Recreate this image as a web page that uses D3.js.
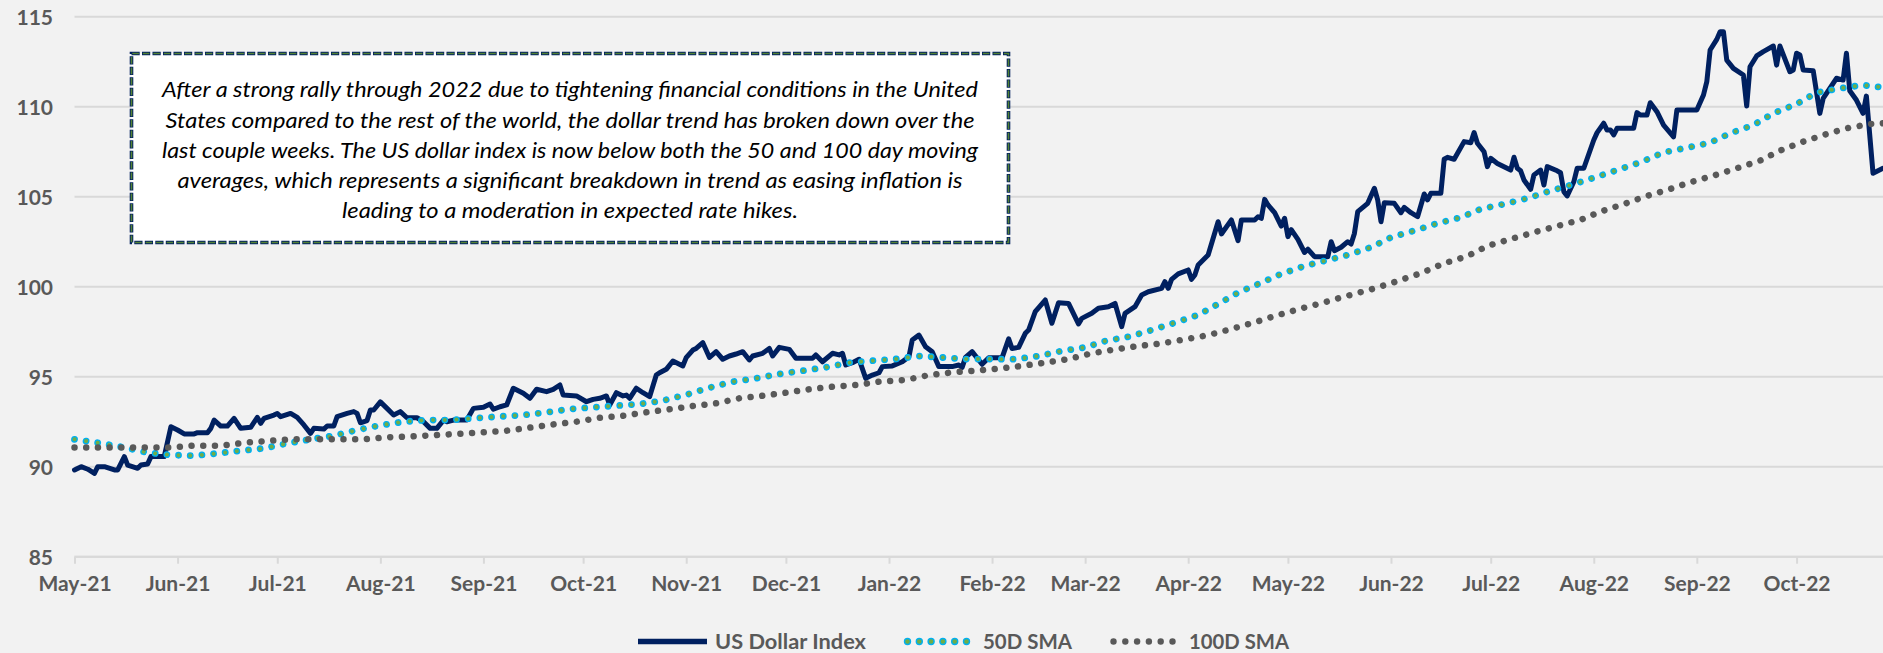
<!DOCTYPE html>
<html><head><meta charset="utf-8">
<script src="https://cdn.jsdelivr.net/npm/d3@7"></script>
<style>
html,body{margin:0;padding:0;background:#f2f2f2;}
svg{display:block;}
</style></head><body>
<svg id="chart" width="1883" height="653"></svg>
<script>
// ---------------- DATA ----------------
const yTickValues = [85, 90, 95, 100, 105, 110, 115];
const monthTicks = ["2021-05-01","2021-06-01","2021-07-01","2021-08-01","2021-09-01","2021-10-01","2021-11-01","2021-12-01","2022-01-01","2022-02-01","2022-03-01","2022-04-01","2022-05-01","2022-06-01","2022-07-01","2022-08-01","2022-09-01","2022-10-01"];
const axisStart = "2021-05-01";
const axisEnd = "2022-10-27";
const seriesNames = ["US Dollar Index", "50D SMA", "100D SMA"];

const usdDates = ["2021-05-01","2021-05-03","2021-05-05","2021-05-07","2021-05-08","2021-05-10","2021-05-13","2021-05-14","2021-05-16","2021-05-17","2021-05-20","2021-05-21","2021-05-23","2021-05-24","2021-05-28","2021-05-30","2021-06-01","2021-06-03","2021-06-06","2021-06-07","2021-06-10","2021-06-11","2021-06-12","2021-06-14","2021-06-16","2021-06-18","2021-06-20","2021-06-23","2021-06-25","2021-06-26","2021-06-27","2021-06-30","2021-07-01","2021-07-02","2021-07-05","2021-07-07","2021-07-09","2021-07-11","2021-07-12","2021-07-15","2021-07-16","2021-07-18","2021-07-19","2021-07-22","2021-07-24","2021-07-25","2021-07-26","2021-07-28","2021-07-29","2021-07-30","2021-08-01","2021-08-03","2021-08-05","2021-08-07","2021-08-09","2021-08-12","2021-08-14","2021-08-16","2021-08-18","2021-08-20","2021-08-21","2021-08-23","2021-08-27","2021-08-29","2021-09-01","2021-09-03","2021-09-04","2021-09-06","2021-09-08","2021-09-10","2021-09-13","2021-09-15","2021-09-17","2021-09-20","2021-09-22","2021-09-24","2021-09-25","2021-09-29","2021-10-02","2021-10-04","2021-10-06","2021-10-08","2021-10-09","2021-10-11","2021-10-13","2021-10-14","2021-10-15","2021-10-17","2021-10-19","2021-10-21","2021-10-23","2021-10-24","2021-10-26","2021-10-28","2021-10-31","2021-11-01","2021-11-03","2021-11-04","2021-11-06","2021-11-08","2021-11-10","2021-11-12","2021-11-14","2021-11-16","2021-11-18","2021-11-20","2021-11-21","2021-11-24","2021-11-26","2021-11-27","2021-11-29","2021-12-02","2021-12-04","2021-12-09","2021-12-10","2021-12-12","2021-12-15","2021-12-17","2021-12-18","2021-12-19","2021-12-21","2021-12-23","2021-12-25","2021-12-27","2021-12-29","2021-12-30","2022-01-02","2022-01-05","2022-01-07","2022-01-08","2022-01-10","2022-01-12","2022-01-14","2022-01-16","2022-01-18","2022-01-20","2022-01-22","2022-01-23","2022-01-24","2022-01-26","2022-01-28","2022-01-29","2022-01-31","2022-02-04","2022-02-06","2022-02-07","2022-02-09","2022-02-11","2022-02-12","2022-02-14","2022-02-17","2022-02-19","2022-02-21","2022-02-24","2022-02-27","2022-02-28","2022-03-03","2022-03-05","2022-03-08","2022-03-10","2022-03-12","2022-03-13","2022-03-16","2022-03-18","2022-03-20","2022-03-24","2022-03-25","2022-03-26","2022-03-27","2022-03-29","2022-04-01","2022-04-02","2022-04-03","2022-04-04","2022-04-07","2022-04-10","2022-04-11","2022-04-14","2022-04-16","2022-04-17","2022-04-21","2022-04-22","2022-04-23","2022-04-24","2022-04-25","2022-04-27","2022-04-29","2022-04-30","2022-05-01","2022-05-02","2022-05-04","2022-05-06","2022-05-07","2022-05-09","2022-05-13","2022-05-14","2022-05-15","2022-05-17","2022-05-19","2022-05-20","2022-05-21","2022-05-22","2022-05-25","2022-05-27","2022-05-28","2022-05-29","2022-05-30","2022-06-02","2022-06-04","2022-06-05","2022-06-07","2022-06-09","2022-06-11","2022-06-12","2022-06-13","2022-06-16","2022-06-17","2022-06-18","2022-06-20","2022-06-23","2022-06-25","2022-06-26","2022-06-27","2022-06-29","2022-06-30","2022-07-01","2022-07-03","2022-07-07","2022-07-08","2022-07-09","2022-07-10","2022-07-11","2022-07-13","2022-07-14","2022-07-16","2022-07-17","2022-07-18","2022-07-21","2022-07-22","2022-07-23","2022-07-24","2022-07-26","2022-07-27","2022-07-29","2022-08-01","2022-08-02","2022-08-04","2022-08-05","2022-08-06","2022-08-07","2022-08-08","2022-08-13","2022-08-14","2022-08-15","2022-08-17","2022-08-18","2022-08-20","2022-08-22","2022-08-25","2022-08-26","2022-08-29","2022-09-01","2022-09-03","2022-09-04","2022-09-05","2022-09-07","2022-09-08","2022-09-09","2022-09-10","2022-09-12","2022-09-15","2022-09-16","2022-09-17","2022-09-19","2022-09-21","2022-09-24","2022-09-25","2022-09-26","2022-09-29","2022-09-30","2022-10-01","2022-10-02","2022-10-03","2022-10-06","2022-10-08","2022-10-09","2022-10-13","2022-10-15","2022-10-16","2022-10-17","2022-10-19","2022-10-21","2022-10-22","2022-10-24","2022-10-27"];
const usdValues = [89.82,90.0,89.86,89.63,90.0,90.0,89.82,89.82,90.56,90.09,89.91,90.09,90.15,90.56,90.56,92.22,92.04,91.82,91.82,91.89,91.89,92.13,92.59,92.26,92.26,92.69,92.13,92.19,92.74,92.41,92.69,92.87,92.96,92.78,92.96,92.74,92.32,91.85,92.13,92.09,92.26,92.26,92.78,92.96,93.06,92.96,92.44,92.56,93.15,93.15,93.6,93.24,92.87,93.06,92.72,92.72,92.5,92.13,92.13,92.59,92.5,92.59,92.59,93.24,93.3,93.48,93.19,93.33,93.43,94.36,94.08,93.8,94.3,94.17,94.3,94.54,93.98,93.93,93.61,93.74,93.8,93.93,93.43,94.11,93.93,93.98,93.8,94.36,94.11,93.89,95.09,95.22,95.41,95.87,95.6,96.06,96.48,96.57,96.89,96.07,96.39,95.97,96.15,96.26,96.39,95.93,96.15,96.3,96.57,96.15,96.63,96.52,96.02,96.02,96.21,95.83,96.3,96.21,96.3,95.65,95.78,95.97,94.91,95.09,95.22,95.56,95.6,95.83,96.11,97.04,97.31,96.67,96.39,95.56,95.56,95.56,95.65,95.52,96.07,96.39,95.93,95.69,96.05,96.05,97.1,96.57,96.63,97.41,97.59,98.61,99.26,97.97,99.11,99.07,97.93,98.24,98.52,98.8,98.89,99.07,97.78,98.52,98.89,99.54,99.72,99.91,100.28,99.91,100.41,100.71,100.93,100.41,100.65,101.21,101.76,103.61,102.93,103.71,102.56,103.71,103.71,103.89,103.8,104.85,104.54,104.11,103.37,103.8,102.78,103.17,102.63,101.9,102.08,101.67,101.67,102.5,102.0,102.19,102.5,102.37,102.96,104.17,104.63,105.47,104.82,103.61,104.67,104.63,104.11,104.41,104.11,103.89,105.15,104.82,105.19,105.19,107.08,107.19,107.08,108.06,108.0,108.56,107.97,107.5,106.67,107.13,106.85,106.48,107.19,106.58,106.44,105.93,105.41,106.21,106.48,105.65,106.67,106.44,106.33,105.28,105.04,105.83,106.58,106.58,108.15,108.56,109.08,108.7,108.71,108.43,108.8,108.8,109.67,109.54,109.54,110.22,109.72,108.98,108.33,109.82,109.82,109.82,110.65,111.39,113.15,113.74,114.17,114.17,112.59,112.13,111.76,110.04,112.22,112.82,113.06,113.37,112.31,113.37,111.94,112.04,112.97,112.87,112.04,112.0,109.63,110.46,111.58,111.48,112.97,110.89,110.37,109.63,110.59,106.3,106.58];

const sma50Dates = ["2021-05-01","2021-05-09","2021-05-16","2021-05-23","2021-05-30","2021-06-06","2021-06-13","2021-06-20","2021-06-27","2021-07-04","2021-07-11","2021-07-18","2021-07-25","2021-08-01","2021-08-08","2021-08-15","2021-08-22","2021-08-29","2021-09-05","2021-09-13","2021-09-20","2021-09-27","2021-10-04","2021-10-11","2021-10-18","2021-10-25","2021-11-01","2021-11-08","2021-11-15","2021-11-22","2021-11-29","2021-12-06","2021-12-13","2021-12-20","2021-12-27","2022-01-03","2022-01-10","2022-01-17","2022-01-24","2022-01-31","2022-02-08","2022-02-15","2022-02-22","2022-03-01","2022-03-07","2022-03-14","2022-03-21","2022-03-28","2022-04-04","2022-04-10","2022-04-16","2022-04-23","2022-04-29","2022-05-06","2022-05-13","2022-05-19","2022-05-26","2022-06-01","2022-06-08","2022-06-15","2022-06-22","2022-06-28","2022-07-05","2022-07-12","2022-07-19","2022-07-26","2022-08-02","2022-08-08","2022-08-15","2022-08-22","2022-08-29","2022-09-05","2022-09-11","2022-09-18","2022-09-24","2022-10-01","2022-10-07","2022-10-14","2022-10-21","2022-10-27"];
const sma50Values = [91.52,91.3,91.07,90.78,90.65,90.61,90.74,90.89,91.02,91.3,91.52,91.72,92.04,92.3,92.5,92.59,92.59,92.69,92.78,92.87,93.02,93.2,93.3,93.39,93.48,93.67,94.0,94.39,94.72,94.91,95.15,95.33,95.52,95.78,95.89,95.98,96.15,96.07,95.98,95.98,95.97,96.15,96.43,96.63,96.98,97.22,97.59,98.0,98.43,99.04,99.67,100.22,100.71,101.15,101.48,101.76,102.19,102.74,103.11,103.52,103.85,104.32,104.59,104.91,105.33,105.7,106.11,106.48,106.91,107.46,107.72,108.0,108.52,108.98,109.63,110.15,110.78,111.02,111.2,111.07];

const sma100Dates = ["2021-05-01","2021-05-09","2021-05-16","2021-05-23","2021-05-30","2021-06-06","2021-06-14","2021-06-21","2021-06-28","2021-07-05","2021-07-12","2021-07-20","2021-07-27","2021-08-03","2021-08-10","2021-08-17","2021-08-24","2021-08-31","2021-09-08","2021-09-15","2021-09-22","2021-09-29","2021-10-06","2021-10-13","2021-10-20","2021-10-27","2021-11-03","2021-11-10","2021-11-17","2021-11-24","2021-12-01","2021-12-08","2021-12-15","2021-12-22","2021-12-29","2022-01-06","2022-01-13","2022-01-20","2022-01-27","2022-02-03","2022-02-10","2022-02-17","2022-02-24","2022-03-03","2022-03-10","2022-03-17","2022-03-24","2022-03-31","2022-04-07","2022-04-14","2022-04-21","2022-04-27","2022-05-04","2022-05-11","2022-05-18","2022-05-26","2022-06-02","2022-06-10","2022-06-17","2022-06-24","2022-06-30","2022-07-07","2022-07-14","2022-07-21","2022-07-28","2022-08-03","2022-08-10","2022-08-17","2022-08-24","2022-08-30","2022-09-06","2022-09-13","2022-09-20","2022-09-26","2022-10-03","2022-10-10","2022-10-16","2022-10-23","2022-10-27"];
const sma100Values = [91.07,91.07,91.07,91.07,91.07,91.17,91.17,91.33,91.43,91.52,91.52,91.52,91.52,91.63,91.68,91.75,91.82,91.9,92.0,92.17,92.35,92.5,92.72,92.83,93.02,93.19,93.37,93.52,93.8,93.94,94.11,94.3,94.44,94.54,94.72,94.82,95.09,95.24,95.33,95.45,95.6,95.78,95.98,96.3,96.52,96.7,96.85,97.07,97.31,97.65,98.02,98.37,98.74,99.08,99.45,99.85,100.25,100.75,101.3,101.7,102.26,102.65,103.02,103.37,103.71,104.17,104.59,105.04,105.43,105.8,106.17,106.58,107.0,107.56,108.06,108.48,108.8,109.04,109.08];

const noteLines = [
  "After a strong rally through 2022 due to tightening financial conditions in the United",
  "States compared to the rest of the world, the dollar trend has broken down over the",
  "last couple weeks. The US dollar index is now below both the 50 and 100 day moving",
  "averages, which represents a significant breakdown in trend as easing inflation is",
  "leading to a moderation in expected rate hikes."
];

// ---------------- STYLE / LAYOUT ----------------
const W = 1883, H = 653;
const plot = {left: 74.5, right: 1883, top: 16.7, bottom: 556.7};
const NAVY = "#002060", CYAN = "#00b0f0", GREEN = "#70ad47", GREY = "#595959";
const GRID = "#d9d9d9", LABEL = "#595959";
const FONT = "Lato, 'Open Sans', 'Liberation Sans', sans-serif";

const parse = d3.timeParse("%Y-%m-%d");
const svg = d3.select("#chart");
svg.append("rect").attr("width", W).attr("height", H).attr("fill", "#f2f2f2");

const x = d3.scaleTime().domain([parse(axisStart), parse(axisEnd)]).range([plot.left, plot.right]);
const y = d3.scaleLinear().domain([85, 115]).range([plot.bottom, plot.top]);

// gridlines
svg.append("g").selectAll("line").data(yTickValues).join("line")
  .attr("x1", plot.left).attr("x2", plot.right)
  .attr("y1", d => y(d)).attr("y2", d => y(d))
  .attr("stroke", GRID).attr("stroke-width", 2);

// y labels
const yAxis = d3.axisLeft(y).tickValues(yTickValues).tickSize(0).tickPadding(0).tickFormat(d3.format("d"));
const gy = svg.append("g").attr("transform", "translate(53,0)").call(yAxis);
gy.select(".domain").remove();
gy.selectAll("text").attr("font-family", FONT).attr("font-weight", 700).attr("font-size", 21)
  .attr("fill", LABEL).attr("dy", "0.36em");

// x axis
const xAxis = d3.axisBottom(x).tickValues(monthTicks.map(parse)).tickSize(7).tickPadding(12)
  .tickFormat(d3.timeFormat("%b-%y"));
const gx = svg.append("g").attr("transform", `translate(0,${plot.bottom})`).call(xAxis);
gx.select(".domain").attr("stroke", GRID).attr("stroke-width", 2).attr("d", `M${plot.left},0H${plot.right}`);
gx.selectAll(".tick line").attr("stroke", GRID).attr("stroke-width", 2);
gx.selectAll("text").attr("font-family", FONT).attr("font-weight", 700).attr("font-size", 21)
  .attr("fill", LABEL).attr("dy", "0.71em");

// note box
const box = {x: 131.5, y: 53.5, w: 877, h: 189};
svg.append("rect").attr("x", box.x).attr("y", box.y).attr("width", box.w).attr("height", box.h)
  .attr("fill", "#ffffff").attr("stroke", NAVY).attr("stroke-width", 3.6).attr("stroke-dasharray", "8.2 2.3");
svg.append("rect").attr("x", box.x).attr("y", box.y).attr("width", box.w).attr("height", box.h)
  .attr("fill", "none").attr("stroke", "#548235").attr("stroke-width", 1.6)
  .attr("stroke-dasharray", "6.6 3.9").attr("stroke-dashoffset", -0.8);
const lineWidths = [816, 809, 816, 785, 456];
const lineY = [97, 128, 158, 188, 218];
svg.append("g").selectAll("text").data(noteLines).join("text")
  .attr("x", box.x + box.w / 2).attr("y", (d, i) => lineY[i])
  .attr("text-anchor", "middle").attr("font-family", FONT).attr("font-style", "italic")
  .attr("font-size", 20.5).attr("fill", "#000")
  .attr("textLength", (d, i) => lineWidths[i]).attr("lengthAdjust", "spacingAndGlyphs")
  .text(d => d);

// series
const line = d3.line().x(d => x(d[0])).y(d => y(d[1])).curve(d3.curveLinear);
const usd = usdDates.map((d, i) => [parse(d), usdValues[i]]);
const s50 = sma50Dates.map((d, i) => [parse(d), sma50Values[i]]);
const s100 = sma100Dates.map((d, i) => [parse(d), sma100Values[i]]);

svg.append("path").attr("d", line(usd)).attr("fill", "none").attr("stroke", NAVY)
  .attr("stroke-width", 5).attr("stroke-linejoin", "round").attr("stroke-linecap", "round");

const dot = "0.01 11.7";
svg.append("path").attr("d", line(s50)).attr("fill", "none").attr("stroke", CYAN)
  .attr("stroke-width", 6.8).attr("stroke-linecap", "round").attr("stroke-dasharray", dot);
svg.append("path").attr("d", line(s50)).attr("fill", "none").attr("stroke", GREEN)
  .attr("stroke-width", 4.0).attr("stroke-linecap", "round").attr("stroke-dasharray", dot);
svg.append("path").attr("d", line(s100)).attr("fill", "none").attr("stroke", GREY)
  .attr("stroke-width", 6.5).attr("stroke-linecap", "round").attr("stroke-dasharray", dot);

// legend
const lg = svg.append("g");
const ly = 641.5;
lg.append("line").attr("x1", 638).attr("x2", 707).attr("y1", ly).attr("y2", ly)
  .attr("stroke", NAVY).attr("stroke-width", 5.5);
const legDots = d3.range(6);
lg.selectAll(".d50").data(legDots).join("circle").attr("class", "d50")
  .attr("cx", i => 907.5 + i * 11.8).attr("cy", ly).attr("r", 3).attr("fill", GREEN)
  .attr("stroke", CYAN).attr("stroke-width", 1.4);
lg.selectAll(".d100").data(legDots).join("circle").attr("class", "d100")
  .attr("cx", i => 1113.5 + i * 11.8).attr("cy", ly).attr("r", 3.2).attr("fill", GREY);
const legText = [{t: seriesNames[0], x: 715, w: 151}, {t: seriesNames[1], x: 983, w: 89}, {t: seriesNames[2], x: 1189, w: 100}];
lg.selectAll("text").data(legText).join("text")
  .attr("x", d => d.x).attr("y", ly + 7.5).attr("font-family", FONT).attr("font-weight", 700)
  .attr("font-size", 20).attr("fill", LABEL)
  .attr("textLength", d => d.w).attr("lengthAdjust", "spacingAndGlyphs")
  .text(d => d.t);
</script>
</body></html>
